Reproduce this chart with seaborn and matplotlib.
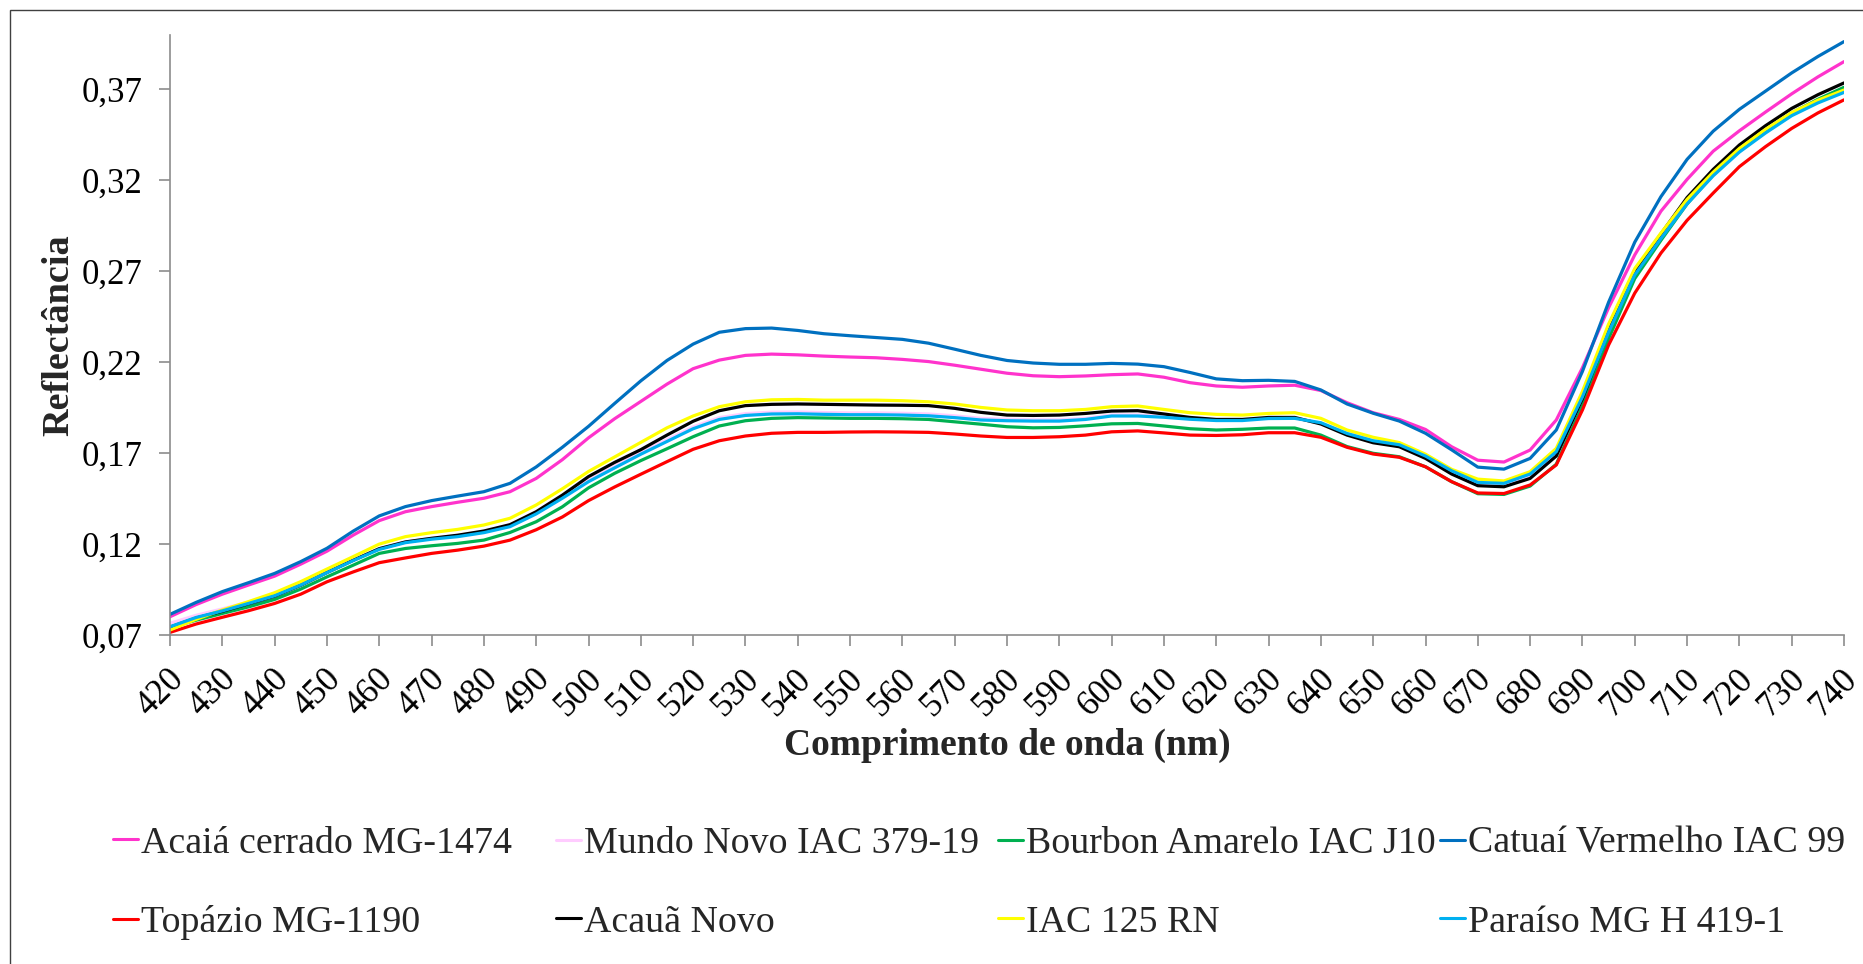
import numpy as np
import pandas as pd
import matplotlib
matplotlib.use("Agg")
import matplotlib.pyplot as plt
from matplotlib.lines import Line2D
from matplotlib.patches import Rectangle
from matplotlib.ticker import FuncFormatter
from matplotlib.transforms import ScaledTranslation
import seaborn as sns

# Wavelengths (nm), sampled every 5 nm
wavelength = list(range(420, 741, 5))

acaia_cerrado = [
    0.0802, 0.0869, 0.0926, 0.0976, 0.1025, 0.1091, 0.1162, 0.1250, 0.1330, 0.1379,
    0.1407, 0.1431, 0.1453, 0.1489, 0.1562, 0.1665, 0.1785, 0.1890, 0.1985, 0.2080,
    0.2165, 0.2212, 0.2238, 0.2245, 0.2241, 0.2234, 0.2229, 0.2225, 0.2216, 0.2204,
    0.2184, 0.2162, 0.2140, 0.2126, 0.2121, 0.2125, 0.2132, 0.2136, 0.2118, 0.2088,
    0.2070, 0.2063, 0.2070, 0.2074, 0.2045, 0.1978, 0.1923, 0.1886, 0.1831, 0.1736,
    0.1662, 0.1652, 0.1718, 0.1883, 0.2170, 0.2500, 0.2790, 0.3030, 0.3205, 0.3360,
    0.3472, 0.3575, 0.3675, 0.3768, 0.3852]

mundo_novo = [
    0.0766, 0.0810, 0.0845, 0.0882, 0.0922, 0.0980, 0.1048, 0.1114, 0.1176, 0.1213,
    0.1232, 0.1247, 0.1268, 0.1302, 0.1372, 0.1459, 0.1551, 0.1628, 0.1704, 0.1775,
    0.1845, 0.1896, 0.1918, 0.1926, 0.1927, 0.1924, 0.1922, 0.1922, 0.1920, 0.1916,
    0.1906, 0.1892, 0.1887, 0.1884, 0.1884, 0.1892, 0.1911, 0.1911, 0.1903, 0.1891,
    0.1884, 0.1884, 0.1894, 0.1895, 0.1866, 0.1806, 0.1766, 0.1743, 0.1680, 0.1598,
    0.1533, 0.1530, 0.1578, 0.1700, 0.2005, 0.2368, 0.2685, 0.2885, 0.3075, 0.3230,
    0.3360, 0.3465, 0.3560, 0.3630, 0.3688]

bourbon_amarelo = [
    0.0743, 0.0783, 0.0820, 0.0856, 0.0897, 0.0954, 0.1021, 0.1085, 0.1150, 0.1177,
    0.1192, 0.1205, 0.1223, 0.1265, 0.1324, 0.1406, 0.1510, 0.1590, 0.1660, 0.1725,
    0.1791, 0.1850, 0.1879, 0.1892, 0.1896, 0.1894, 0.1892, 0.1892, 0.1890, 0.1886,
    0.1873, 0.1860, 0.1846, 0.1840, 0.1842, 0.1851, 0.1862, 0.1864, 0.1850, 0.1835,
    0.1828, 0.1832, 0.1839, 0.1839, 0.1800, 0.1737, 0.1700, 0.1681, 0.1626, 0.1544,
    0.1478, 0.1474, 0.1520, 0.1640, 0.1960, 0.2330, 0.2660, 0.2870, 0.3070, 0.3230,
    0.3365, 0.3475, 0.3570, 0.3645, 0.3711]

catuai_vermelho = [
    0.0815, 0.0881, 0.0940, 0.0989, 0.1040, 0.1105, 0.1178, 0.1272, 0.1356, 0.1407,
    0.1440, 0.1465, 0.1489, 0.1535, 0.1625, 0.1733, 0.1848, 0.1974, 0.2098, 0.2210,
    0.2300, 0.2365, 0.2385, 0.2388, 0.2375, 0.2357, 0.2346, 0.2336, 0.2326, 0.2305,
    0.2272, 0.2238, 0.2210, 0.2196, 0.2189, 0.2189, 0.2194, 0.2190, 0.2176, 0.2144,
    0.2109, 0.2099, 0.2101, 0.2095, 0.2048, 0.1971, 0.1920, 0.1877, 0.1810, 0.1719,
    0.1624, 0.1613, 0.1672, 0.1828, 0.2150, 0.2530, 0.2860, 0.3110, 0.3315, 0.3470,
    0.3590, 0.3690, 0.3790, 0.3880, 0.3962]

topazio = [
    0.0716, 0.0762, 0.0799, 0.0835, 0.0875, 0.0926, 0.0994, 0.1048, 0.1099, 0.1125,
    0.1150, 0.1168, 0.1190, 0.1223, 0.1280, 0.1350, 0.1440, 0.1515, 0.1585, 0.1654,
    0.1722, 0.1769, 0.1795, 0.1810, 0.1815, 0.1815, 0.1817, 0.1818, 0.1817, 0.1815,
    0.1806, 0.1795, 0.1787, 0.1787, 0.1791, 0.1800, 0.1818, 0.1823, 0.1812, 0.1800,
    0.1798, 0.1802, 0.1813, 0.1813, 0.1788, 0.1733, 0.1696, 0.1678, 0.1626, 0.1544,
    0.1482, 0.1479, 0.1526, 0.1636, 0.1938, 0.2295, 0.2580, 0.2800, 0.2980, 0.3130,
    0.3275, 0.3385, 0.3485, 0.3570, 0.3642]

acaua_novo = [
    0.0745, 0.0795, 0.0832, 0.0873, 0.0915, 0.0975, 0.1045, 0.1112, 0.1176, 0.1213,
    0.1233, 0.1250, 0.1273, 0.1308, 0.1379, 0.1470, 0.1572, 0.1650, 0.1720, 0.1800,
    0.1876, 0.1934, 0.1962, 0.1969, 0.1971, 0.1969, 0.1967, 0.1965, 0.1964, 0.1962,
    0.1947, 0.1925, 0.1910, 0.1908, 0.1910, 0.1919, 0.1932, 0.1934, 0.1916, 0.1897,
    0.1886, 0.1886, 0.1897, 0.1897, 0.1861, 0.1800, 0.1758, 0.1736, 0.1672, 0.1586,
    0.1522, 0.1516, 0.1562, 0.1685, 0.2000, 0.2375, 0.2700, 0.2905, 0.3105, 0.3260,
    0.3394, 0.3500, 0.3595, 0.3670, 0.3735]

iac_125_rn = [
    0.0729, 0.0788, 0.0839, 0.0885, 0.0934, 0.0995, 0.1064, 0.1132, 0.1201, 0.1242,
    0.1264, 0.1282, 0.1306, 0.1343, 0.1416, 0.1505, 0.1600, 0.1680, 0.1760, 0.1840,
    0.1905, 0.1956, 0.1983, 0.1994, 0.1996, 0.1992, 0.1992, 0.1992, 0.1989, 0.1983,
    0.1971, 0.1952, 0.1938, 0.1934, 0.1934, 0.1941, 0.1956, 0.1960, 0.1941, 0.1923,
    0.1914, 0.1910, 0.1919, 0.1923, 0.1892, 0.1828, 0.1788, 0.1759, 0.1695, 0.1612,
    0.1558, 0.1548, 0.1599, 0.1727, 0.2040, 0.2410, 0.2715, 0.2910, 0.3095, 0.3245,
    0.3375, 0.3480, 0.3572, 0.3640, 0.3696]

paraiso = [
    0.0747, 0.0798, 0.0834, 0.0875, 0.0917, 0.0976, 0.1044, 0.1110, 0.1172, 0.1209,
    0.1228, 0.1242, 0.1264, 0.1297, 0.1367, 0.1453, 0.1544, 0.1620, 0.1695, 0.1765,
    0.1835, 0.1886, 0.1908, 0.1916, 0.1917, 0.1914, 0.1912, 0.1912, 0.1910, 0.1906,
    0.1896, 0.1883, 0.1879, 0.1877, 0.1877, 0.1886, 0.1905, 0.1905, 0.1898, 0.1887,
    0.1880, 0.1880, 0.1891, 0.1892, 0.1868, 0.1809, 0.1769, 0.1747, 0.1685, 0.1604,
    0.1540, 0.1535, 0.1586, 0.1709, 0.2010, 0.2365, 0.2680, 0.2880, 0.3070, 0.3225,
    0.3355, 0.3460, 0.3555, 0.3625, 0.3683]

cultivars = [
    "Acaiá cerrado MG-1474", "Mundo Novo IAC 379-19", "Bourbon Amarelo IAC J10",
    "Catuaí Vermelho IAC 99", "Topázio MG-1190", "Acauã Novo", "IAC 125 RN",
    "Paraíso MG H 419-1",
]
series = [acaia_cerrado, mundo_novo, bourbon_amarelo, catuai_vermelho,
          topazio, acaua_novo, iac_125_rn, paraiso]
colors = ["#FF33CC", "#FFCCFF", "#00B050", "#0070C0",
          "#FF0000", "#000000", "#FFFF00", "#00B0F0"]

x_ticks = list(range(420, 741, 10))
y_ticks = [0.07, 0.12, 0.17, 0.22, 0.27, 0.32, 0.37]

for s in series:
    assert len(s) == len(wavelength)

df = pd.concat(
    [pd.DataFrame({"wavelength": wavelength, "reflectance": vals, "cultivar": name})
     for name, vals in zip(cultivars, series)],
    ignore_index=True,
)

sns.set_theme(style="white")
plt.rcParams["font.family"] = ["Liberation Serif", "DejaVu Serif"]

W, H = 1863, 964
fig = plt.figure(figsize=(W / 100, H / 100), dpi=100)
fig.patch.set_facecolor("white")

left, right, top, bottom = 170, 1844, 34.7, 635.3
ax = fig.add_axes([left / W, 1 - bottom / H, (right - left) / W, (bottom - top) / H])

sns.lineplot(data=df, x="wavelength", y="reflectance", hue="cultivar",
             hue_order=cultivars, palette=dict(zip(cultivars, colors)),
             linewidth=2.3, legend=False, ax=ax, sort=False)

ax.set_xlim(420, 740)
ax.set_ylim(0.07, 0.40)
ax.set_xticks(x_ticks)
ax.set_yticks(y_ticks)
ax.yaxis.set_major_formatter(FuncFormatter(lambda v, _: f"{v:.2f}".replace(".", ",")))
ax.set_xlabel("")
ax.set_ylabel("")

for side in ("top", "right"):
    ax.spines[side].set_visible(False)
for side in ("left", "bottom"):
    ax.spines[side].set_color("#8C8C8C")
    ax.spines[side].set_linewidth(1.2)

ax.tick_params(axis="both", direction="out", length=8, width=1.2, color="#8C8C8C",
               labelsize=25, labelcolor="black", bottom=True, left=True)
ax.tick_params(axis="y", pad=12)
ax.tick_params(axis="x", pad=20)

# Rotated wavelength labels, nudged so each ends just right of its tick
shift = ScaledTranslation(9 / 100, 0, fig.dpi_scale_trans)
for tick in ax.xaxis.get_major_ticks():
    lbl = tick.label1
    lbl.set_rotation(45)
    lbl.set_rotation_mode("anchor")
    lbl.set_ha("right")
    lbl.set_va("center")
    lbl.set_transform(lbl.get_transform() + shift)

fig.text((left + right) / 2 / W, 1 - 745 / H, "Comprimento de onda (nm)",
         ha="center", va="center", fontsize=27, fontweight="bold")
fig.text(59 / W, 1 - (top + bottom) / 2 / H, "Reflectância", rotation=90,
         ha="center", va="center", fontsize=27.5, fontweight="bold")

# Legend: four evenly spaced columns, two rows each
col_x = [113, 556, 998, 1440]
for i, cx in enumerate(col_x):
    idx = [i, i + 4]
    handles = [Line2D([0], [0], color=colors[k], lw=2.2) for k in idx]
    labels = [cultivars[k] for k in idx]
    fig.legend(handles, labels, loc="center left",
               bbox_to_anchor=(cx / W, 1 - 883 / H), frameon=False,
               fontsize=27.3, handlelength=0.66, handletextpad=0.07,
               borderpad=0, borderaxespad=0, labelspacing=1.17)

fig.add_artist(Rectangle((9.5 / W, -0.05), 1.2, (H - 9.5) / H + 0.05,
                         transform=fig.transFigure, fill=False,
                         edgecolor="#404040", linewidth=1.0))

fig.savefig("out.png", dpi=100, facecolor="white")
